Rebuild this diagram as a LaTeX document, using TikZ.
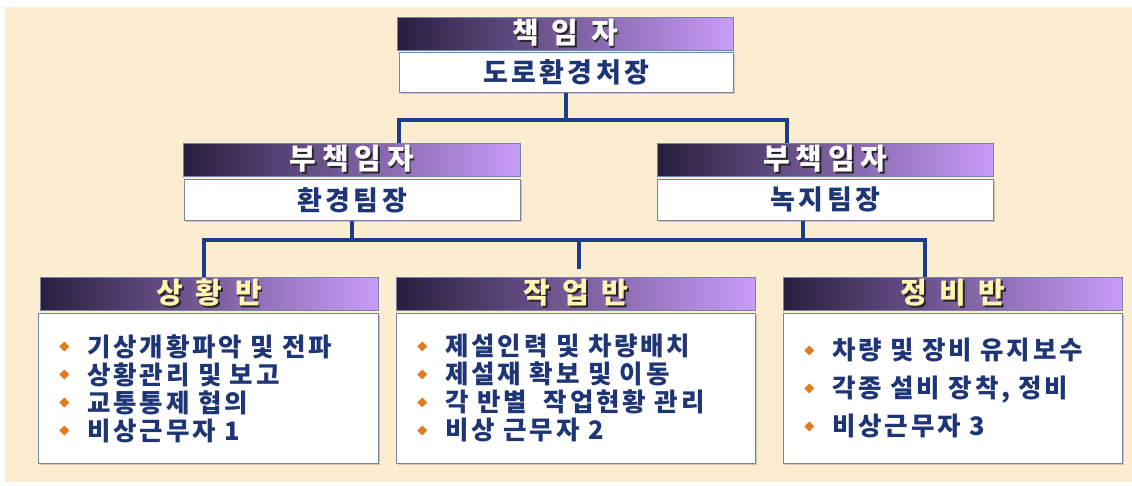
\documentclass[tikz,border=0pt]{standalone}
\usepackage{fontspec}
\usepackage{graphicx}
\setmainfont{Noto Sans CJK KR}
\usetikzlibrary{shadows}

\definecolor{parch}{RGB}{252,236,208}
\definecolor{linkblue}{RGB}{30,60,140}
\definecolor{navy}{RGB}{31,54,118}
\definecolor{hddark}{RGB}{40,30,62}
\definecolor{hdmid}{RGB}{110,80,155}
\definecolor{hdlight}{RGB}{202,156,250}
\definecolor{bulletor}{RGB}{226,122,30}
\definecolor{boxline}{RGB}{120,132,165}
\definecolor{paleyel}{RGB}{255,244,176}

\newcommand{\hdtext}[2]{\makebox[0pt][l]{\hspace{1.8pt}\raisebox{-1.8pt}{\color{black!85}#2}}{\color{#1}#2}}
\newcommand{\blt}{\raisebox{6pt}{\textcolor{bulletor}{\rotatebox[origin=c]{45}{\rule{7pt}{7pt}}}}\hspace{18pt}}

\tikzset{
  hd/.style={anchor=north west, minimum height=33pt, inner sep=0pt,
    shading=axis, left color=hddark, middle color=hdmid, right color=hdlight,
    draw=boxline, line width=0.6pt,
    font=\fontsize{29}{30}\selectfont\bfseries\addfontfeatures{LetterSpace=20}},
  wbox/.style={anchor=north west, fill=white, draw=boxline, line width=0.8pt,
    inner sep=0pt, text=navy,
    drop shadow={shadow xshift=2pt, shadow yshift=-2pt, opacity=.3, fill=black!60},
    font=\fontsize{27}{28}\selectfont\bfseries\addfontfeatures{LetterSpace=12}},
  body/.style={anchor=north west, fill=white, draw=boxline, line width=0.8pt,
    minimum height=150pt, inner xsep=21pt, inner ysep=0pt, align=left, text=navy,
    drop shadow={shadow xshift=2pt, shadow yshift=-2pt, opacity=.3, fill=black!60},
    font=\fontsize{25.5}{28}\selectfont\bfseries\addfontfeatures{LetterSpace=11}},
  link/.style={draw=linkblue, line width=4pt}
}

\begin{document}
\begin{tikzpicture}[x=1pt, y=-1pt]
    \useasboundingbox (0,0) rectangle (1132,486);
    \fill[white] (0,0) rectangle (1132,486);
    \fill[parch] (5,7) rectangle (1132,482);

    % top level
    \node (hdTop) at (397,17) [hd, minimum width=336pt] {\hdtext{white}{책 임 자}};
    \node (boxTop) at (399,52) [wbox, minimum width=334pt, minimum height=40pt] {도로환경처장};

    % second level
    \node (hdSubL) at (183,143) [hd, minimum width=337pt] {\hdtext{white}{부책임자}};
    \node (boxSubL) at (184,179) [wbox, minimum width=336pt, minimum height=41pt] {환경팀장};
    \node (hdSubR) at (657,143) [hd, minimum width=336pt] {\hdtext{white}{부책임자}};
    \node (boxSubR) at (657,179) [wbox, minimum width=336pt, minimum height=41pt] {녹지팀장};

    % third level
    \node (hdSit) at (40,277) [hd, minimum width=338pt] {\hdtext{paleyel}{상 황 반}};
    \node (boxSit) at (38,313) [body, text width=298pt]
        {\blt 기상개황파악 및 전파\\ \blt 상황관리 및 보고\\ \blt 교통통제 협의\\ \blt 비상근무자 1};
    \node (hdWork) at (396,277) [hd, minimum width=359pt] {\hdtext{paleyel}{작 업 반}};
    \node (boxWork) at (396,313) [body, text width=317pt]
        {\blt 제설인력 및 차량배치\\ \blt 제설재 확보 및 이동\\ \blt 각 반별 \ 작업현황 관리\\ \blt 비상 근무자 2};
    \node (hdMaint) at (783,277) [hd, minimum width=339pt] {\hdtext{paleyel}{정 비 반}};
    \node (boxMaint) at (783,313) [body, text width=297pt, inner xsep=21pt,
        font=\fontsize{25.5}{38}\selectfont\bfseries\addfontfeatures{LetterSpace=11}]
        {\blt 차량 및 장비 유지보수\\ \blt 각종 설비 장착, 정비\\ \blt 비상근무자 3};

    % connectors
    \coordinate (b1L) at (399,120);
    \coordinate (b1R) at (787,120);
    \draw[link] (boxTop.south) -- (boxTop.south |- b1L);
    \draw[link] (hdSubL.north -| b1L) -- (b1L) -- (b1R) -- (hdSubR.north -| b1R);

    \coordinate (b2L) at (204,240);
    \coordinate (b2R) at (925,240);
    \coordinate (j2R) at (803,240);
    \coordinate (j2M) at (579,240);
    \draw[link] (boxSubL.south) -- (boxSubL.south |- b2L);
    \draw[link] (boxSubR.south -| j2R) -- (j2R);
    \draw[link] (hdSit.north -| b2L) -- (b2L) -- (b2R) -- (hdMaint.north -| b2R);
    \draw[link] (j2M) -- ++(0,29);
\end{tikzpicture}
\end{document}
